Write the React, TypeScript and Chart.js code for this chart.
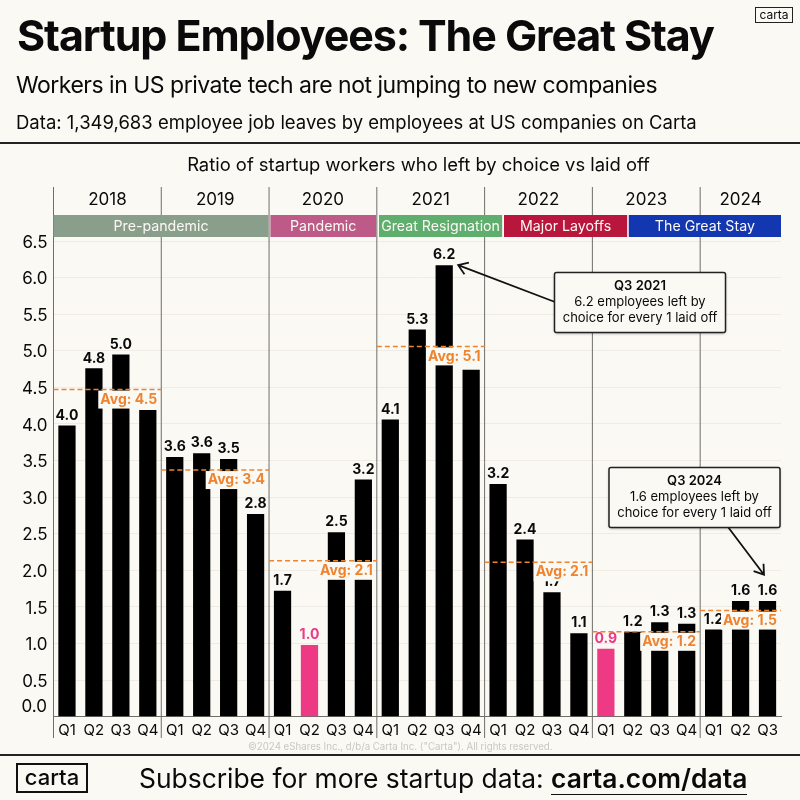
import React, { useEffect, useRef } from "react";
import { Chart, registerables } from "chart.js";

Chart.register(...registerables);

const FONT = "Inter";
const BG = "#fbf9f4";
const INK = "#0a0a0a";
const ORANGE = "#ee8430";
const PINK = "#ee3a85";

const quarters = ["Q1","Q2","Q3","Q4","Q1","Q2","Q3","Q4","Q1","Q2","Q3","Q4","Q1","Q2","Q3","Q4","Q1","Q2","Q3","Q4","Q1","Q2","Q3","Q4","Q1","Q2","Q3"];
const ratios = [3.98,4.76,4.95,4.19,3.55,3.6,3.52,2.77,1.72,0.98,2.52,3.24,4.06,5.29,6.17,4.74,3.18,2.42,1.7,1.14,0.93,1.16,1.29,1.27,1.19,1.58,1.58];
const ratioLabels = ["4.0","4.8","5.0","","3.6","3.6","3.5","2.8","1.7","1.0","2.5","3.2","4.1","5.3","6.2","","3.2","2.4","1.7","1.1","0.9","1.2","1.3","1.3","1.2","1.6","1.6"];
const lowIndexes = [9, 20];
const years = ["2018","2019","2020","2021","2022","2023","2024"];
const yearStart = [0,4,8,12,16,20,24];
const yearEnd = [4,8,12,16,20,24,27];
const averages = [4.47,3.37,2.13,5.06,2.11,1.16,1.45];
const averageLabels = ["Avg: 4.5","Avg: 3.4","Avg: 2.1","Avg: 5.1","Avg: 2.1","Avg: 1.2","Avg: 1.5"];
const eras = ["Pre-pandemic","Pandemic","Great Resignation","Major Layoffs","The Great Stay"];
const eraStart = [0,8.05,12.08,16.72,21.35];
const eraEnd = [7.98,11.97,16.65,21.29,27];
const eraColors = ["#8a9e8c","#bd5a88","#5fae6e","#b9163e","#1237b0"];
const yTicks = [0,0.5,1,1.5,2,2.5,3,3.5,4,4.5,5,5.5,6,6.5];

function boxText(ctx: CanvasRenderingContext2D, title: string, l1: string, l2: string, left: number, top: number, w: number, h: number) {
  const cx = left + w / 2;
  ctx.save();
  ctx.shadowColor = "rgba(0,0,0,0.35)";
  ctx.shadowBlur = 3;
  ctx.shadowOffsetY = 1;
  ctx.fillStyle = BG;
  ctx.strokeStyle = "#222";
  ctx.lineWidth = 1.5;
  ctx.beginPath();
  ctx.roundRect(left, top, w, h, 2);
  ctx.fill();
  ctx.shadowColor = "transparent";
  ctx.stroke();
  ctx.fillStyle = INK;
  ctx.textAlign = "center";
  ctx.textBaseline = "middle";
  ctx.font = `600 13px ${FONT}`;
  ctx.fillText(title, cx, top + 14);
  ctx.font = `400 13px ${FONT}`;
  ctx.fillText(l1, cx, top + 30);
  ctx.fillText(l2, cx, top + 46);
  ctx.restore();
}

function arrow(ctx: CanvasRenderingContext2D, x1: number, y1: number, x2: number, y2: number) {
  const a = Math.atan2(y2 - y1, x2 - x1);
  ctx.save();
  ctx.strokeStyle = "#111";
  ctx.lineWidth = 1.8;
  ctx.beginPath();
  ctx.moveTo(x1, y1);
  ctx.lineTo(x2, y2);
  ctx.moveTo(x2 - 11 * Math.cos(a - 0.6), y2 - 11 * Math.sin(a - 0.6));
  ctx.lineTo(x2, y2);
  ctx.lineTo(x2 - 11 * Math.cos(a + 0.6), y2 - 11 * Math.sin(a + 0.6));
  ctx.stroke();
  ctx.restore();
}

const overlays = {
  id: "overlays",
  beforeDraw(chart: any) {
    chart.scales.y.getLabelItems().forEach((item: any) => { item.textOffset += 1.5; });
    chart.scales.x.getLabelItems().forEach((item: any) => { item.textOffset -= 2; });
  },
  beforeDatasetsDraw(chart: any) {
    const { ctx, scales: { x, y } } = chart;
    const step = x.getPixelForValue(1) - x.getPixelForValue(0);
    const edge = (i: number) => x.getPixelForValue(0) - step / 2 + i * step;
    ctx.save();
    ctx.strokeStyle = "#6e6e6a";
    ctx.lineWidth = 1;
    yearStart.forEach((s) => {
      ctx.beginPath();
      ctx.moveTo(edge(s), 187);
      ctx.lineTo(edge(s), 738);
      ctx.stroke();
    });
    ctx.fillStyle = INK;
    ctx.font = `400 17px ${FONT}`;
    ctx.textAlign = "center";
    ctx.textBaseline = "middle";
    years.forEach((t, i) => ctx.fillText(t, (edge(yearStart[i]) + edge(yearEnd[i])) / 2, 199.5));
    eras.forEach((t, i) => {
      const a = edge(eraStart[i]);
      const b = edge(eraEnd[i]);
      ctx.fillStyle = eraColors[i];
      ctx.fillRect(a, 215, b - a, 22);
      ctx.fillStyle = "#fbf9f4";
      ctx.font = `400 14.2px ${FONT}`;
      ctx.fillText(t, (a + b) / 2, 226.5);
    });
    ctx.fillStyle = INK;
    ctx.font = `400 17px ${FONT}`;
    ctx.textAlign = "right";
    ctx.fillText("0.0", 47, y.getPixelForValue(0) - 9.5);
    ctx.restore();
  },
  afterDatasetsDraw(chart: any) {
    const { ctx, scales: { x, y } } = chart;
    const step = x.getPixelForValue(1) - x.getPixelForValue(0);
    const edge = (i: number) => x.getPixelForValue(0) - step / 2 + i * step;
    ctx.save();
    ctx.textAlign = "center";
    ctx.textBaseline = "bottom";
    ctx.font = `700 14px ${FONT}`;
    ratios.forEach((v, i) => {
      if (!ratioLabels[i]) return;
      ctx.fillStyle = lowIndexes.includes(i) ? PINK : INK;
      ctx.fillText(ratioLabels[i], x.getPixelForValue(i), y.getPixelForValue(v) - 3);
    });
    ctx.textBaseline = "middle";
    averages.forEach((v, i) => {
      const py = y.getPixelForValue(v);
      const right = edge(yearEnd[i]);
      ctx.font = `700 14px ${FONT}`;
      const w = ctx.measureText(averageLabels[i]).width;
      ctx.fillStyle = BG;
      ctx.fillRect(right - w - 6, py + 1, w + 4, 18);
      ctx.strokeStyle = ORANGE;
      ctx.lineWidth = 1.5;
      ctx.setLineDash([5, 3]);
      ctx.beginPath();
      ctx.moveTo(edge(yearStart[i]), py);
      ctx.lineTo(right, py);
      ctx.stroke();
      ctx.setLineDash([]);
      ctx.fillStyle = ORANGE;
      ctx.textAlign = "right";
      ctx.fillText(averageLabels[i], right - 4, py + 10);
      ctx.textAlign = "center";
    });
    ctx.restore();
    const px = (i: number) => x.getPixelForValue(i);
    arrow(ctx, 555, 302, px(14) + 14, y.getPixelForValue(6.17));
    boxText(ctx, "Q3 2021", "6.2 employees left by", "choice for every 1 laid off", 554.5, 272.5, 171, 60);
    arrow(ctx, 728, 527, px(26) - 3.5, y.getPixelForValue(1.94));
    boxText(ctx, "Q3 2024", "1.6 employees left by", "choice for every 1 laid off", 609, 467.5, 171, 60);
  },
};

const T: React.CSSProperties = { position: "absolute", whiteSpace: "nowrap", color: INK, fontFamily: FONT, lineHeight: 1 };

export default function App() {
  const ref = useRef<HTMLCanvasElement>(null);
  useEffect(() => {
    document.body.style.margin = "0";
    document.body.style.background = BG;
    const chart = new Chart(ref.current!, {
      type: "bar",
      data: {
        labels: quarters,
        datasets: [{
          data: ratios,
          backgroundColor: ratios.map((_, i) => (lowIndexes.includes(i) ? PINK : "#000")),
          barPercentage: 0.64,
          categoryPercentage: 1,
        }],
      },
      options: {
        animation: false,
        responsive: false,
        devicePixelRatio: 1,
        layout: { padding: { top: 241, right: 19, left: 0, bottom: 0 } },
        plugins: { legend: { display: false }, title: { display: false }, tooltip: { enabled: false } },
        scales: {
          x: {
            grid: { display: false },
            border: { color: "#6e6e6a" },
            ticks: { color: INK, font: { family: FONT, size: 15 }, maxRotation: 0, autoSkip: false, padding: -1 },
            afterFit: (s: any) => { s.height = 83.3; },
          },
          y: {
            min: 0,
            max: 6.5,
            afterBuildTicks: (s: any) => { s.ticks = yTicks.map((value) => ({ value })); },
            grid: { color: "#f0ece3", drawTicks: false },
            border: { display: false },
            ticks: {
              color: INK,
              font: { family: FONT, size: 17 },
              padding: 6,
              callback: (v: any) => (Number(v) === 0 ? "" : Number(v).toFixed(1)),
            },
            afterFit: (s: any) => { s.width = 53.5; },
          },
        },
      },
      plugins: [overlays],
    } as any);
    return () => chart.destroy();
  }, []);
  return (
    <div style={{ position: "relative", width: 800, height: 800, background: BG, overflow: "hidden" }}>
      <canvas ref={ref} width={800} height={800} style={{ position: "absolute", left: 0, top: 0 }} />
      <div style={{ ...T, left: 17, top: 14, fontSize: 43, fontWeight: 700, letterSpacing: -1.1 }}>Startup Employees: The Great Stay</div>
      <div style={{ ...T, left: 16, top: 74, fontSize: 23, letterSpacing: -0.5 }}>Workers in US private tech are not jumping to new companies</div>
      <div style={{ ...T, left: 16, top: 113, fontSize: 18.5 }}>Data: 1,349,683 employee job leaves by employees at US companies on Carta</div>
      <div style={{ position: "absolute", left: 0, right: 0, top: 142, height: 2, background: "#222" }} />
      <div style={{ ...T, left: 0, width: 837, textAlign: "center", top: 155, fontSize: 18.4 }}>Ratio of startup workers who left by choice vs laid off</div>
      <div style={{ ...T, left: 755, top: 7, width: 36, height: 14, border: "1px solid #222", fontSize: 12, lineHeight: "14px", textAlign: "center" }}>carta</div>
      <div style={{ ...T, left: 248, top: 742, fontSize: 9.7, color: "#c9c7c2" }}>©2024 eShares Inc., d/b/a Carta Inc. ("Carta"). All rights reserved.</div>
      <div style={{ position: "absolute", left: 0, right: 0, top: 754, height: 2, background: "#222" }} />
      <div style={{ ...T, left: 16, top: 763, width: 68, height: 26, border: "2px solid #111", fontSize: 22, lineHeight: "25px", textAlign: "center", fontWeight: 500 }}>carta</div>
      <div style={{ ...T, left: 139, top: 765, fontSize: 26.4 }}>Subscribe for more startup data: <span style={{ fontWeight: 600, borderBottom: "1px solid #111" }}>carta.com/data</span></div>
    </div>
  );
}
